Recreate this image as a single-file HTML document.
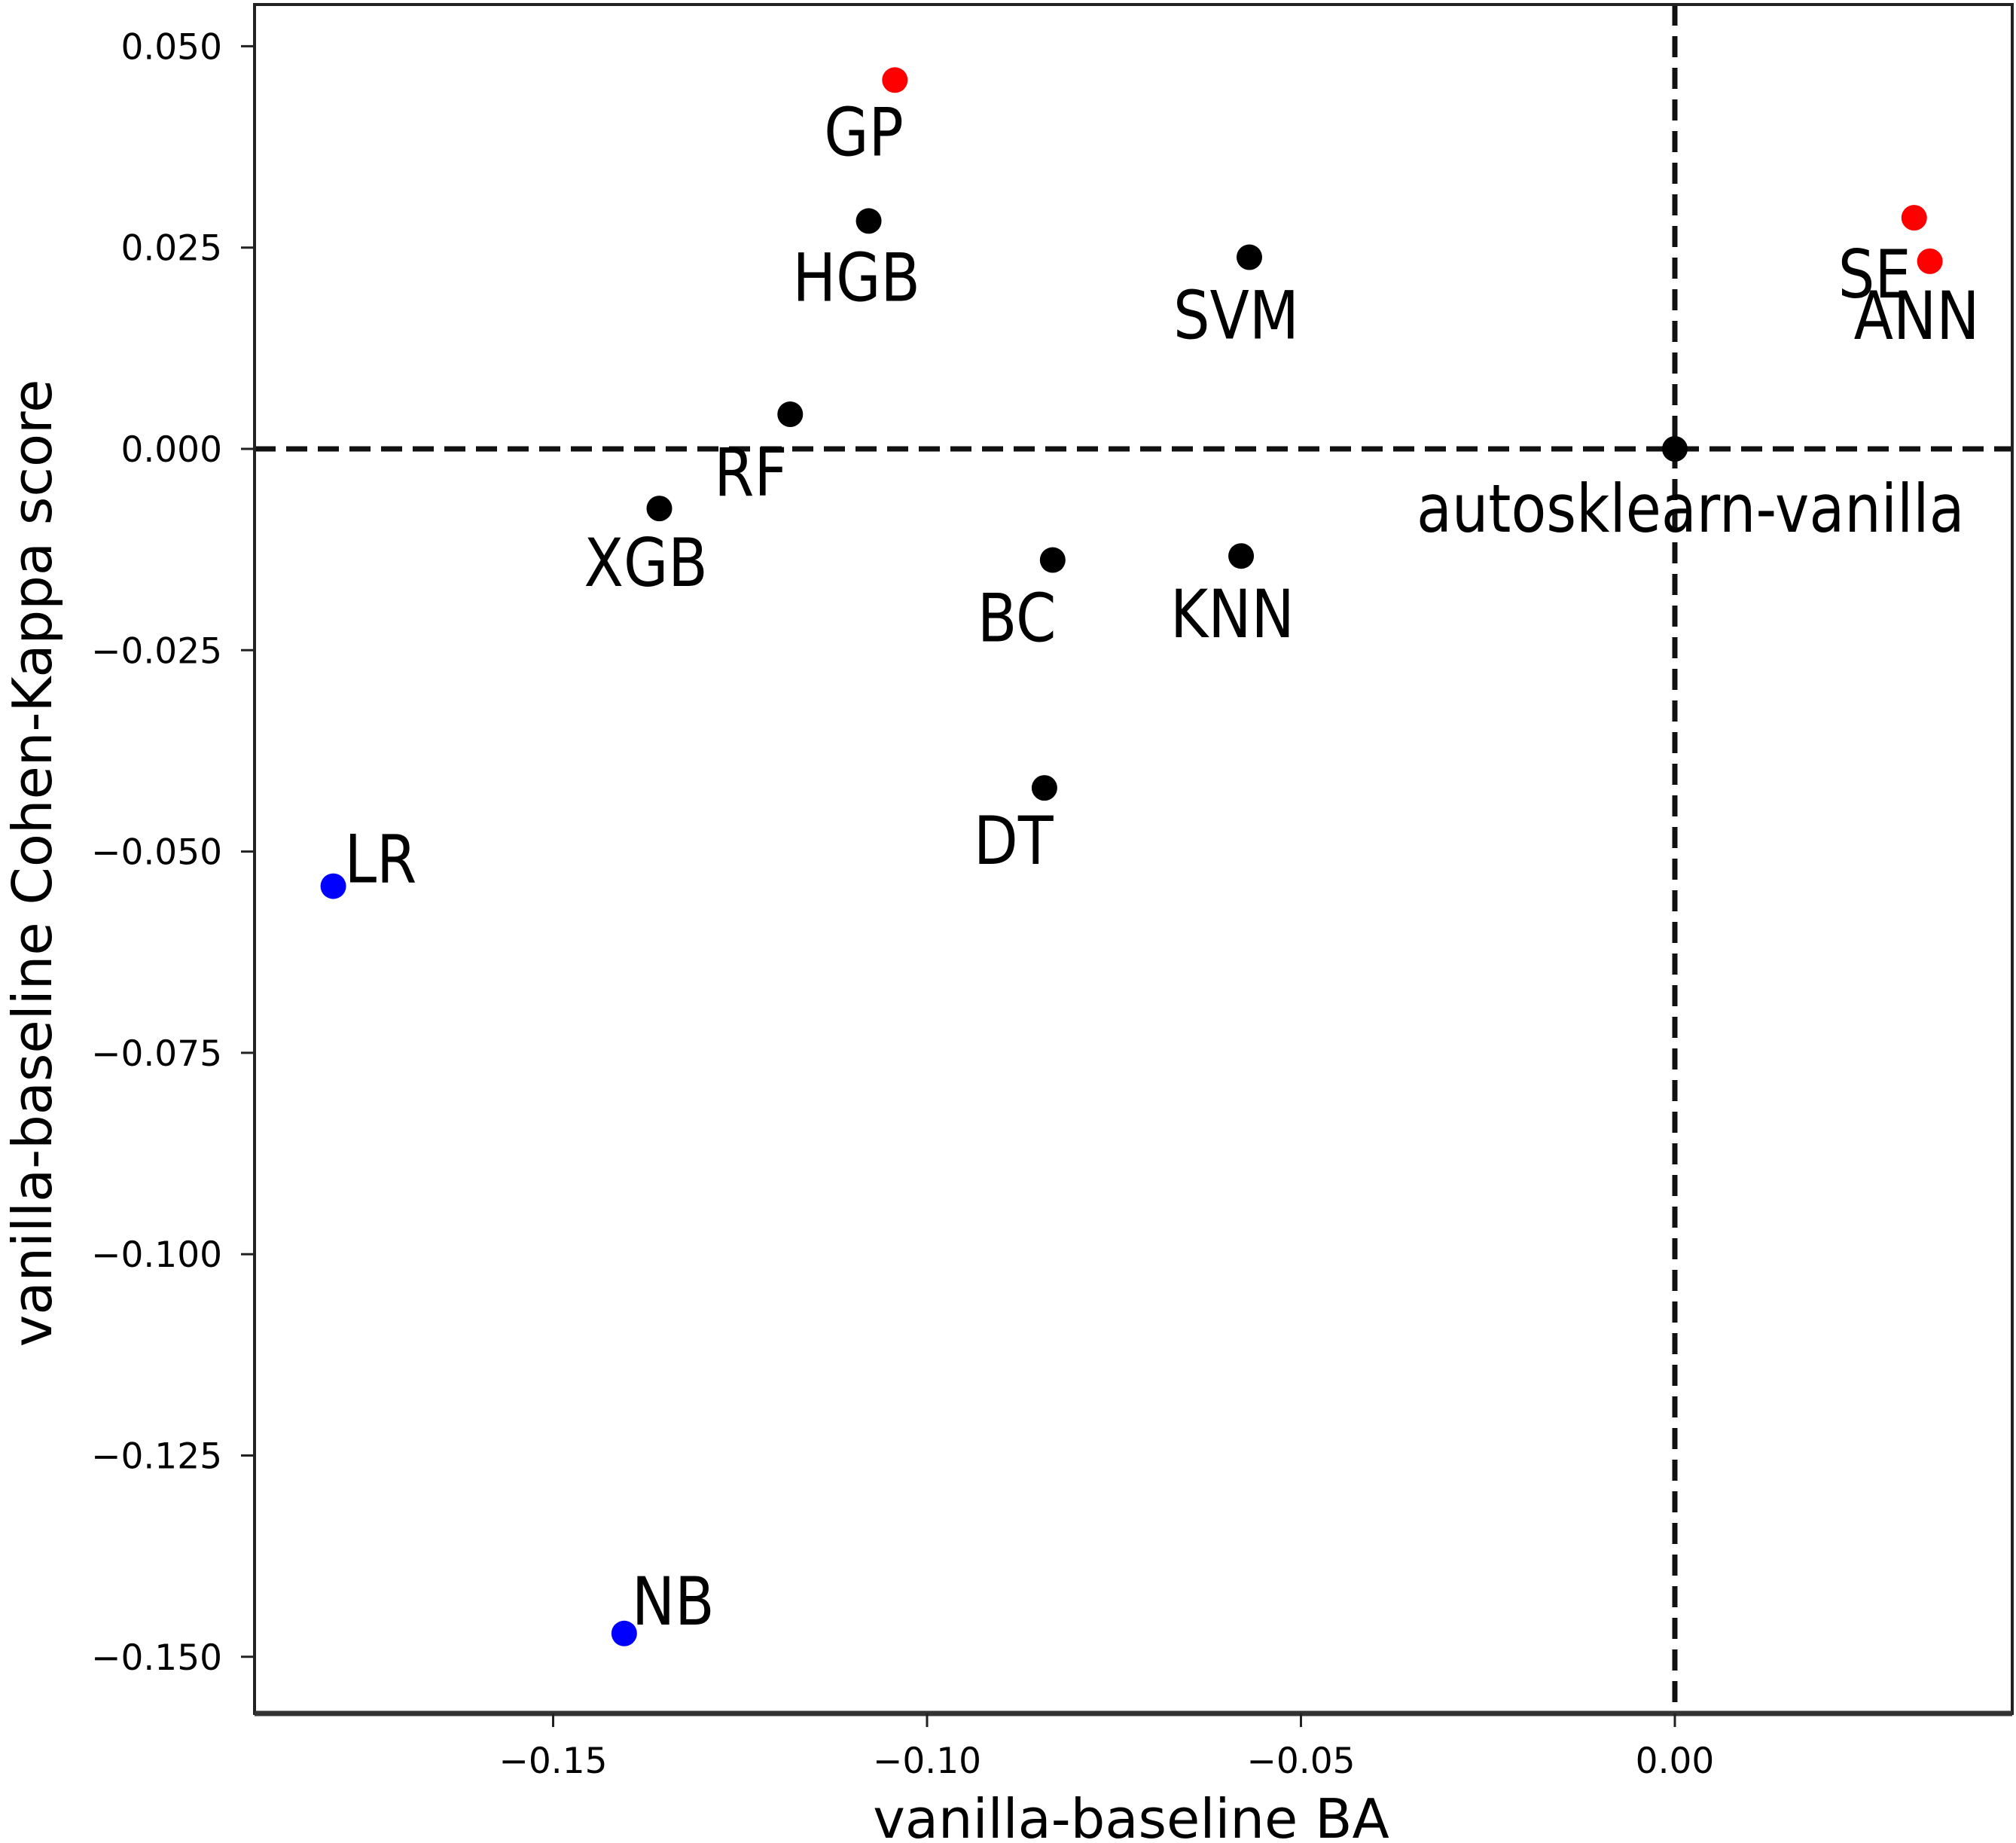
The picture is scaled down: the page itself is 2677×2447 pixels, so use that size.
<!DOCTYPE html>
<html><head><meta charset="utf-8"><style>
html,body{margin:0;padding:0;background:#fff;}
svg{display:block;}
text{font-family:"DejaVu Sans","Liberation Sans",sans-serif;fill:#000;}
</style></head><body>
<svg id="chart" width="2677" height="2447" viewBox="0 0 2677 2447" xmlns="http://www.w3.org/2000/svg">
<g id="grid"></g><g id="pts"></g><g id="labels"></g><g id="axes"></g>
</svg>
<script>
const names = ["GP","HGB","SVM","RF","XGB","BC","KNN","DT","LR","NB","autosklearn-vanilla","SE","ANN"];
const xVals = [-0.1043,-0.1078,-0.0569,-0.1183,-0.1358,-0.0832,-0.0580,-0.0843,-0.1794,-0.1405,0.0,0.0320,0.0341];
const yVals = [0.0458,0.0283,0.0238,0.0043,-0.0074,-0.0138,-0.0133,-0.0421,-0.0543,-0.1471,0.0,0.0287,0.0233];
const colors = ["red","black","black","black","black","black","black","black","blue","blue","black","red","red"];
const xTicks = [-0.15,-0.10,-0.05,0.00];
const xTickLabels = ["\u22120.15","\u22120.10","\u22120.05","0.00"];
const yTicks = [0.05,0.025,0,-0.025,-0.05,-0.075,-0.1,-0.125,-0.15];
const yTickLabels = ["0.050","0.025","0.000","\u22120.025","\u22120.050","\u22120.075","\u22120.100","\u22120.125","\u22120.150"];
// label offsets (px) relative to point
const labDx = [-94,-101,-101,-101,-100,-100,-94,-94,15,10,-343,-101,-101];
const labDy = [100,106,108,108,103,108,108,101,-5,-12,110,106,103];

const L=338,R=2672,T=6,B=2275;
const sx = v => 2224 + v/0.05*496.5;
const sy = v => 596 - v/0.025*267.3;
const NS="http://www.w3.org/2000/svg";
function mk(tag,attrs,parent){const e=document.createElementNS(NS,tag);for(const k in attrs)e.setAttribute(k,attrs[k]);parent.appendChild(e);return e;}
const grid=document.getElementById('grid'),pts=document.getElementById('pts'),labs=document.getElementById('labels'),axes=document.getElementById('axes');

let h=mk('line',{x1:L,x2:R,y1:sy(0),y2:sy(0),stroke:'#111','stroke-width':7,'stroke-dasharray':'28,14'},grid);


let v=mk('line',{x1:sx(0),x2:sx(0),y1:T,y2:B,stroke:'#111','stroke-width':7,'stroke-dasharray':'28,14'},grid);



names.forEach((n,i)=>{
  const c=mk('circle',{cx:sx(xVals[i]),cy:sy(yVals[i]),r:17,fill:colors[i]},pts);
  
  
  const t=mk('text',{x:sx(xVals[i])+labDx[i],y:sy(yVals[i])+labDy[i],'font-size':88},labs);
  t.textContent=n;
  
  
  const w=t.getComputedTextLength();
  t.setAttribute('textLength',(w*0.87).toFixed(1));
  t.setAttribute('lengthAdjust','spacingAndGlyphs');
});

const frame=mk('rect',{x:L,y:T,width:R-L,height:B-T,fill:'none',stroke:'#222','stroke-width':4},axes);


const bax=mk('line',{x1:L,x2:R,y1:B,y2:B,stroke:'#333','stroke-width':7},axes);



xTicks.forEach((t,i)=>{
  const tk=mk('line',{x1:sx(t),x2:sx(t),y1:B,y2:B+18,stroke:'#222','stroke-width':3},axes);
  
  
  const tl=mk('text',{x:sx(t),y:2354,'font-size':47,'text-anchor':'middle',fill:'#222'},axes);
  tl.textContent=xTickLabels[i];
  
  
});
yTicks.forEach((t,i)=>{
  const tk=mk('line',{x1:L-18,x2:L,y1:sy(t),y2:sy(t),stroke:'#222','stroke-width':3},axes);
  
  
  const tl=mk('text',{x:295,y:sy(t)+17,'font-size':47,'text-anchor':'end',fill:'#222'},axes);
  tl.textContent=yTickLabels[i];
  
  
});
const xt=mk('text',{x:1502,y:2440,'font-size':72,'text-anchor':'middle',fill:'#222'},axes);
xt.textContent='vanilla-baseline BA';


const yt=mk('text',{x:0,y:0,'font-size':72,'text-anchor':'middle',fill:'#222',transform:'translate(68,1146) rotate(-90)'},axes);
yt.textContent='vanilla-baseline Cohen-Kappa score';


</script>
</body></html>
